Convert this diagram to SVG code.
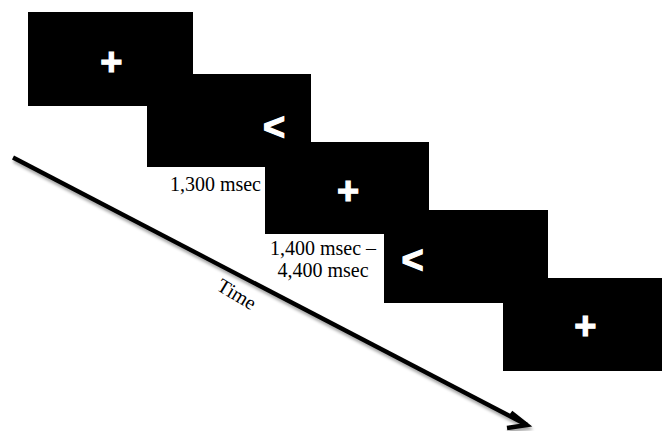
<svg xmlns="http://www.w3.org/2000/svg" width="664" height="431" viewBox="0 0 664 431">
  <style>
    .screen { fill: #000; }
    .sym { fill: #fff; stroke: #fff; stroke-width: 1.2px; font-family: "Liberation Sans", Arial, sans-serif; font-weight: bold; font-size: 38px; text-anchor: middle; }
    .lbl { fill: #000; font-family: "Liberation Serif", "Times New Roman", serif; font-size: 20px; }
  </style>
  <defs>
    <filter id="shadow" x="-10%" y="-10%" width="120%" height="130%">
      <feDropShadow dx="1" dy="3" stdDeviation="1.5" flood-color="#000" flood-opacity="0.35"/>
    </filter>
  </defs>
  <rect width="664" height="431" fill="#fff"/>
  <g id="screen1">
    <rect class="screen" x="28" y="12" width="165" height="94"/>
    <text class="sym" x="111.3" y="74.5">+</text>
  </g>
  <g id="screen2">
    <rect class="screen" x="147" y="74" width="164" height="93"/>
    <text class="sym" x="274" y="140">&lt;</text>
  </g>
  <g id="screen3">
    <rect class="screen" x="265" y="142" width="164" height="92"/>
    <text class="sym" x="348" y="204">+</text>
  </g>
  <g id="screen4">
    <rect class="screen" x="384" y="210" width="164" height="93"/>
    <text class="sym" x="412.5" y="273">&lt;</text>
  </g>
  <g id="screen5">
    <rect class="screen" x="503" y="278" width="159" height="93"/>
    <text class="sym" x="585.3" y="339">+</text>
  </g>
  <g id="labels">
    <text class="lbl" x="261" y="191" text-anchor="end">1,300 msec</text>
    <text class="lbl" x="323" y="255" text-anchor="middle">1,400 msec –</text>
    <text class="lbl" x="323" y="277" text-anchor="middle">4,400 msec</text>
    <text class="lbl" transform="translate(237,294) rotate(31)" x="0" y="7" text-anchor="middle" font-size="22">Time</text>
  </g>
  <g id="connectors" filter="url(#shadow)" fill="none" stroke="#000" stroke-width="4.3">
    <path d="M13 157.5 L527 425"/>
    <path d="M511 412.5 L527 425 L507 428" stroke-linejoin="miter"/>
  </g>
</svg>
